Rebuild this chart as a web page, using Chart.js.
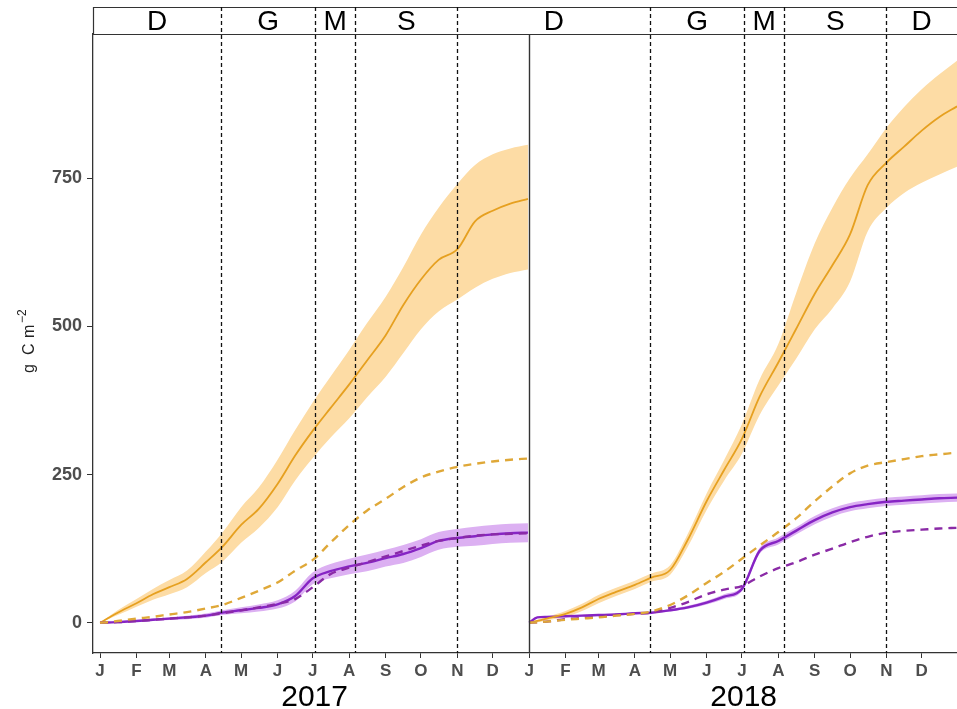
<!DOCTYPE html>
<html>
<head>
<meta charset="utf-8">
<title>Cumulative carbon 2017-2018</title>
<script src="https://cdn.jsdelivr.net/npm/chart.js@4.4.1/dist/chart.umd.min.js"></script>
<style>
  html, body { margin: 0; padding: 0; background: #fff; }
  #wrap { width: 957px; height: 709px; }
</style>
</head>
<body>
<div id="wrap"><canvas id="carbonChart" width="957" height="709"></canvas></div>
<script>
// sample days (0 = 1 Jan), shared by both years
const sampleDays = [0, 7, 15, 31, 45, 59, 74, 90, 104, 120, 135, 151, 166, 181, 196, 212, 227, 243, 258, 273, 288, 304, 319, 334, 349, 364];

// 2017, g C m-2 (cumulative)
const orangeMean2017  = [0, 8, 17, 33, 48, 60, 74, 102, 128, 165, 192, 234, 282, 324, 362, 402, 442, 485, 536, 579, 612, 630, 677, 695, 707, 715];
const orangeUpper2017 = [0, 10, 21, 40, 57, 72, 88, 120, 152, 195, 228, 275, 325, 372, 415, 460, 505, 550, 600, 655, 700, 740, 772, 790, 800, 806];
const orangeLower2017 = [0, 6, 13, 27, 39, 48, 60, 84, 103, 135, 160, 195, 240, 278, 312, 345, 380, 415, 455, 495, 525, 545, 565, 580, 590, 596];
const orangeDash2017  = [0, 1, 3, 7, 10, 14, 18, 24, 30, 42, 54, 68, 88, 106, 135, 165, 189, 209, 229, 245, 255, 263, 268, 272, 275, 277];
const purpleMean2017  = [0, 0.5, 1, 3, 5, 7, 9, 12, 17, 21, 25, 31, 45, 75, 87, 95, 101, 109, 116, 126, 138, 143, 146, 149, 151, 152];
const purpleUpper2017 = [0, 1, 2, 4.5, 7, 9.5, 12, 15.5, 21, 26, 31, 38, 54, 85, 99, 108, 115, 123, 131, 141, 153, 158, 162, 165, 167, 168];
const purpleLower2017 = [0, 0, 0, 1.5, 3, 4.5, 6, 8.5, 13, 16, 19, 24, 36, 65, 75, 82, 87, 95, 101, 111, 123, 128, 130, 133, 135, 136];
const purpleDash2017  = [0, 0.5, 1, 3, 5, 7, 9, 12, 16, 21, 26, 32, 40, 60, 82, 93, 102, 112, 121, 130, 138, 143, 147, 149, 150, 151];

// 2018
const orangeMean2018  = [0, 3, 7, 15, 26, 40, 52, 64, 76, 89, 140, 205, 258, 310, 381, 439, 495, 555, 603, 655, 738, 776, 803, 830, 853, 871];
const orangeUpper2018 = [0, 5, 10, 20, 32, 47, 59, 71, 83, 97, 150, 218, 275, 335, 410, 470, 555, 640, 700, 750, 790, 835, 870, 900, 925, 948];
const orangeLower2018 = [0, 1, 4, 10, 20, 33, 45, 57, 69, 81, 128, 190, 240, 285, 350, 400, 445, 495, 530, 575, 660, 700, 725, 742, 756, 769];
const orangeDash2018  = [0, 1, 2, 5, 7, 9, 12, 15, 19, 30, 46, 67, 86, 108, 130, 153, 176, 205, 230, 252, 265, 271, 276, 281, 284, 287];
const purpleMean2018  = [0, 9, 10, 11, 12, 13, 14, 16, 17, 21, 26, 34, 44, 57, 121, 138, 155, 173, 186, 195, 200, 204, 206, 208, 210, 211];
const purpleUpper2018 = [0, 10, 11.5, 12.5, 13.5, 14.5, 15.5, 17.5, 18.5, 23, 28.5, 37, 48, 61, 126, 144, 161, 180, 193, 202, 207, 211, 213, 215, 217, 218];
const purpleLower2018 = [0, 8, 8.5, 9.5, 10.5, 11.5, 12.5, 14.5, 15.5, 19, 23.5, 31, 40, 53, 116, 132, 149, 166, 179, 188, 193, 197, 199, 201, 203, 204];
const purpleDash2018  = [0, 1, 2, 6, 8, 10, 13, 15, 17, 25, 35, 48, 56, 62, 78, 92, 102, 115, 125, 136, 145, 152, 155, 157, 159, 160];

// axes
const yearLabels = ["2017", "2018"];
const monthLetters = ["J", "F", "M", "A", "M", "J", "J", "A", "S", "O", "N", "D"];
const monthStartDays = [0, 31, 59, 90, 120, 151, 181, 212, 243, 273, 304, 334];
const yTicks = [0, 250, 500, 750];

// season boundaries (day of year) and strip letters across both years
const seasonBreaks = [103, 183, 217, 304];
const seasonLetters = ["D", "G", "M", "S", "D", "G", "M", "S", "D"];

const YEAR_LEN = 365;
const X_MIN = -6, X_MAX = 729;
const FONT = "'Liberation Sans', Arial, sans-serif";

const ORANGE = '#e6a020';
const ORANGE_BAND = '#fddca5';
const ORANGE_DASH = '#dfa838';
const PURPLE = '#8624c4';
const PURPLE_BAND = '#dcb0f2';
const PURPLE_DASH = '#8a2aa6';

function points(values, offset) {
  return sampleDays.map((d, i) => ({ x: d + offset, y: values[i] }));
}

function line(label, values, offset, color, width, dash) {
  return {
    label: label,
    data: points(values, offset),
    borderColor: color,
    borderWidth: width,
    borderDash: dash || [],
    pointRadius: 0,
    fill: false,
    cubicInterpolationMode: 'monotone',
    order: 1
  };
}

// upper edge fills down to the lower edge (next dataset)
function band(label, upper, lower, offset, color) {
  return [
    { label: label + ' upper', data: points(upper, offset), borderWidth: 0, borderColor: 'rgba(0,0,0,0)',
      backgroundColor: color, fill: '+1', pointRadius: 0, cubicInterpolationMode: 'monotone', order: 5 },
    { label: label + ' lower', data: points(lower, offset), borderWidth: 0, borderColor: 'rgba(0,0,0,0)',
      fill: false, pointRadius: 0, cubicInterpolationMode: 'monotone', order: 5 }
  ];
}

const datasets = [
  ...band('orange 2017', orangeUpper2017, orangeLower2017, 0, ORANGE_BAND),
  ...band('purple 2017', purpleUpper2017, purpleLower2017, 0, PURPLE_BAND),
  ...band('orange 2018', orangeUpper2018, orangeLower2018, YEAR_LEN, ORANGE_BAND),
  ...band('purple 2018', purpleUpper2018, purpleLower2018, YEAR_LEN, PURPLE_BAND),
  line('orange dashed 2017', orangeDash2017, 0, ORANGE_DASH, 2.4, [8, 6]),
  line('purple dashed 2017', purpleDash2017, 0, PURPLE_DASH, 2.4, [8, 6]),
  line('orange 2017', orangeMean2017, 0, ORANGE, 1.8),
  line('purple 2017', purpleMean2017, 0, PURPLE, 2.4),
  line('orange dashed 2018', orangeDash2018, YEAR_LEN, ORANGE_DASH, 2.4, [8, 6]),
  line('purple dashed 2018', purpleDash2018, YEAR_LEN, PURPLE_DASH, 2.4, [8, 6]),
  line('orange 2018', orangeMean2018, YEAR_LEN, ORANGE, 1.8),
  line('purple 2018', purpleMean2018, YEAR_LEN, PURPLE, 2.4)
];

// month ticks for both years
const xTickValues = [];
const xTickLabels = [];
yearLabels.forEach((y, yi) => {
  monthStartDays.forEach((d, mi) => {
    const v = d + yi * YEAR_LEN;
    if (v <= X_MAX) { xTickValues.push(v); xTickLabels.push(monthLetters[mi]); }
  });
});

const allBreaks = [];
yearLabels.forEach((y, yi) => seasonBreaks.forEach(b => allBreaks.push(b + yi * YEAR_LEN)));

// season strip, dividers, year captions and the unit label
const facetDecor = {
  id: 'facetDecor',
  afterDatasetsDraw(chart) {
    const { ctx, chartArea } = chart;
    const x = chart.scales.x;
    const stripTop = 7;
    const stripBottom = chartArea.top;
    ctx.save();

    // white strip and frame
    ctx.fillStyle = '#fff';
    ctx.fillRect(chartArea.left, stripTop, chart.width - chartArea.left, stripBottom - stripTop);
    ctx.strokeStyle = '#333';
    ctx.lineWidth = 1.2;
    ctx.beginPath();
    ctx.moveTo(chart.width + 2, stripTop + 0.5);
    ctx.lineTo(chartArea.left + 0.5, stripTop + 0.5);
    ctx.lineTo(chartArea.left + 0.5, stripBottom + 0.5);
    ctx.lineTo(chart.width + 2, stripBottom + 0.5);
    ctx.stroke();

    // panel divider between the two years
    const px365 = Math.round(x.getPixelForValue(YEAR_LEN)) + 0.5;
    ctx.strokeStyle = '#333';
    ctx.lineWidth = 1.4;
    ctx.beginPath();
    ctx.moveTo(px365, stripBottom);
    ctx.lineTo(px365, chartArea.bottom);
    ctx.stroke();

    // season dividers
    ctx.strokeStyle = '#111';
    ctx.lineWidth = 1.3;
    ctx.setLineDash([4, 3]);
    allBreaks.forEach(b => {
      const px = Math.round(x.getPixelForValue(b)) + 0.5;
      ctx.beginPath();
      ctx.moveTo(px, stripTop);
      ctx.lineTo(px, chartArea.bottom);
      ctx.stroke();
    });
    ctx.setLineDash([]);

    // strip letters, centred in each season
    const edges = [X_MIN, ...allBreaks, X_MAX];
    ctx.fillStyle = '#000';
    ctx.font = '28px ' + FONT;
    ctx.textAlign = 'center';
    ctx.textBaseline = 'alphabetic';
    seasonLetters.forEach((s, i) => {
      const mid = (edges[i] + edges[i + 1]) / 2;
      ctx.fillText(s, x.getPixelForValue(mid), 30);
    });

    // year captions under each panel
    ctx.font = '30px ' + FONT;
    yearLabels.forEach((yl, yi) => {
      const mid = yi * YEAR_LEN + YEAR_LEN / 2;
      ctx.fillText(yl, x.getPixelForValue(mid), 706);
    });

    // y unit: g C m^-2, rotated, with a raised exponent
    ctx.translate(34, 373);
    ctx.rotate(-Math.PI / 2);
    ctx.textAlign = 'left';
    ctx.fillStyle = '#222';
    ctx.font = '16px ' + FONT;
    ctx.fillText('g', 0, 0);
    ctx.fillText('C', 18, 0);
    ctx.fillText('m', 35, 0);
    ctx.font = '12px ' + FONT;
    ctx.fillText('\u22122', 50, -8);
    ctx.restore();
  }
};

const ctx = document.getElementById('carbonChart').getContext('2d');
new Chart(ctx, {
  type: 'line',
  data: { datasets: datasets },
  plugins: [facetDecor],
  options: {
    responsive: false,
    animation: false,
    layout: { padding: { top: 34, right: 0, left: 0, bottom: 0 } },
    plugins: {
      legend: { display: false },
      tooltip: { enabled: false }
    },
    scales: {
      x: {
        type: 'linear',
        min: X_MIN,
        max: X_MAX,
        afterBuildTicks: (scale) => { scale.ticks = xTickValues.map(v => ({ value: v })); },
        afterFit: (scale) => { scale.height = 56; },
        ticks: {
          autoSkip: false,
          maxRotation: 0,
          padding: 3,
          color: '#4d4d4d',
          font: { family: FONT, size: 17, weight: 'bold' },
          callback: (value, index) => xTickLabels[index]
        },
        grid: { drawOnChartArea: false, drawTicks: true, tickLength: 5, tickColor: '#333' },
        border: { display: true, color: '#333', width: 1.3 }
      },
      y: {
        type: 'linear',
        min: -51,
        max: 993,
        afterBuildTicks: (scale) => { scale.ticks = yTicks.map(v => ({ value: v })); },
        afterFit: (scale) => { scale.width = 93; },
        ticks: {
          padding: 5,
          color: '#4d4d4d',
          font: { family: FONT, size: 18, weight: 'bold' }
        },
        grid: { drawOnChartArea: false, drawTicks: true, tickLength: 6, tickColor: '#333' },
        border: { display: true, color: '#333', width: 1.3 }
      }
    }
  }
});
</script>
</body>
</html>
